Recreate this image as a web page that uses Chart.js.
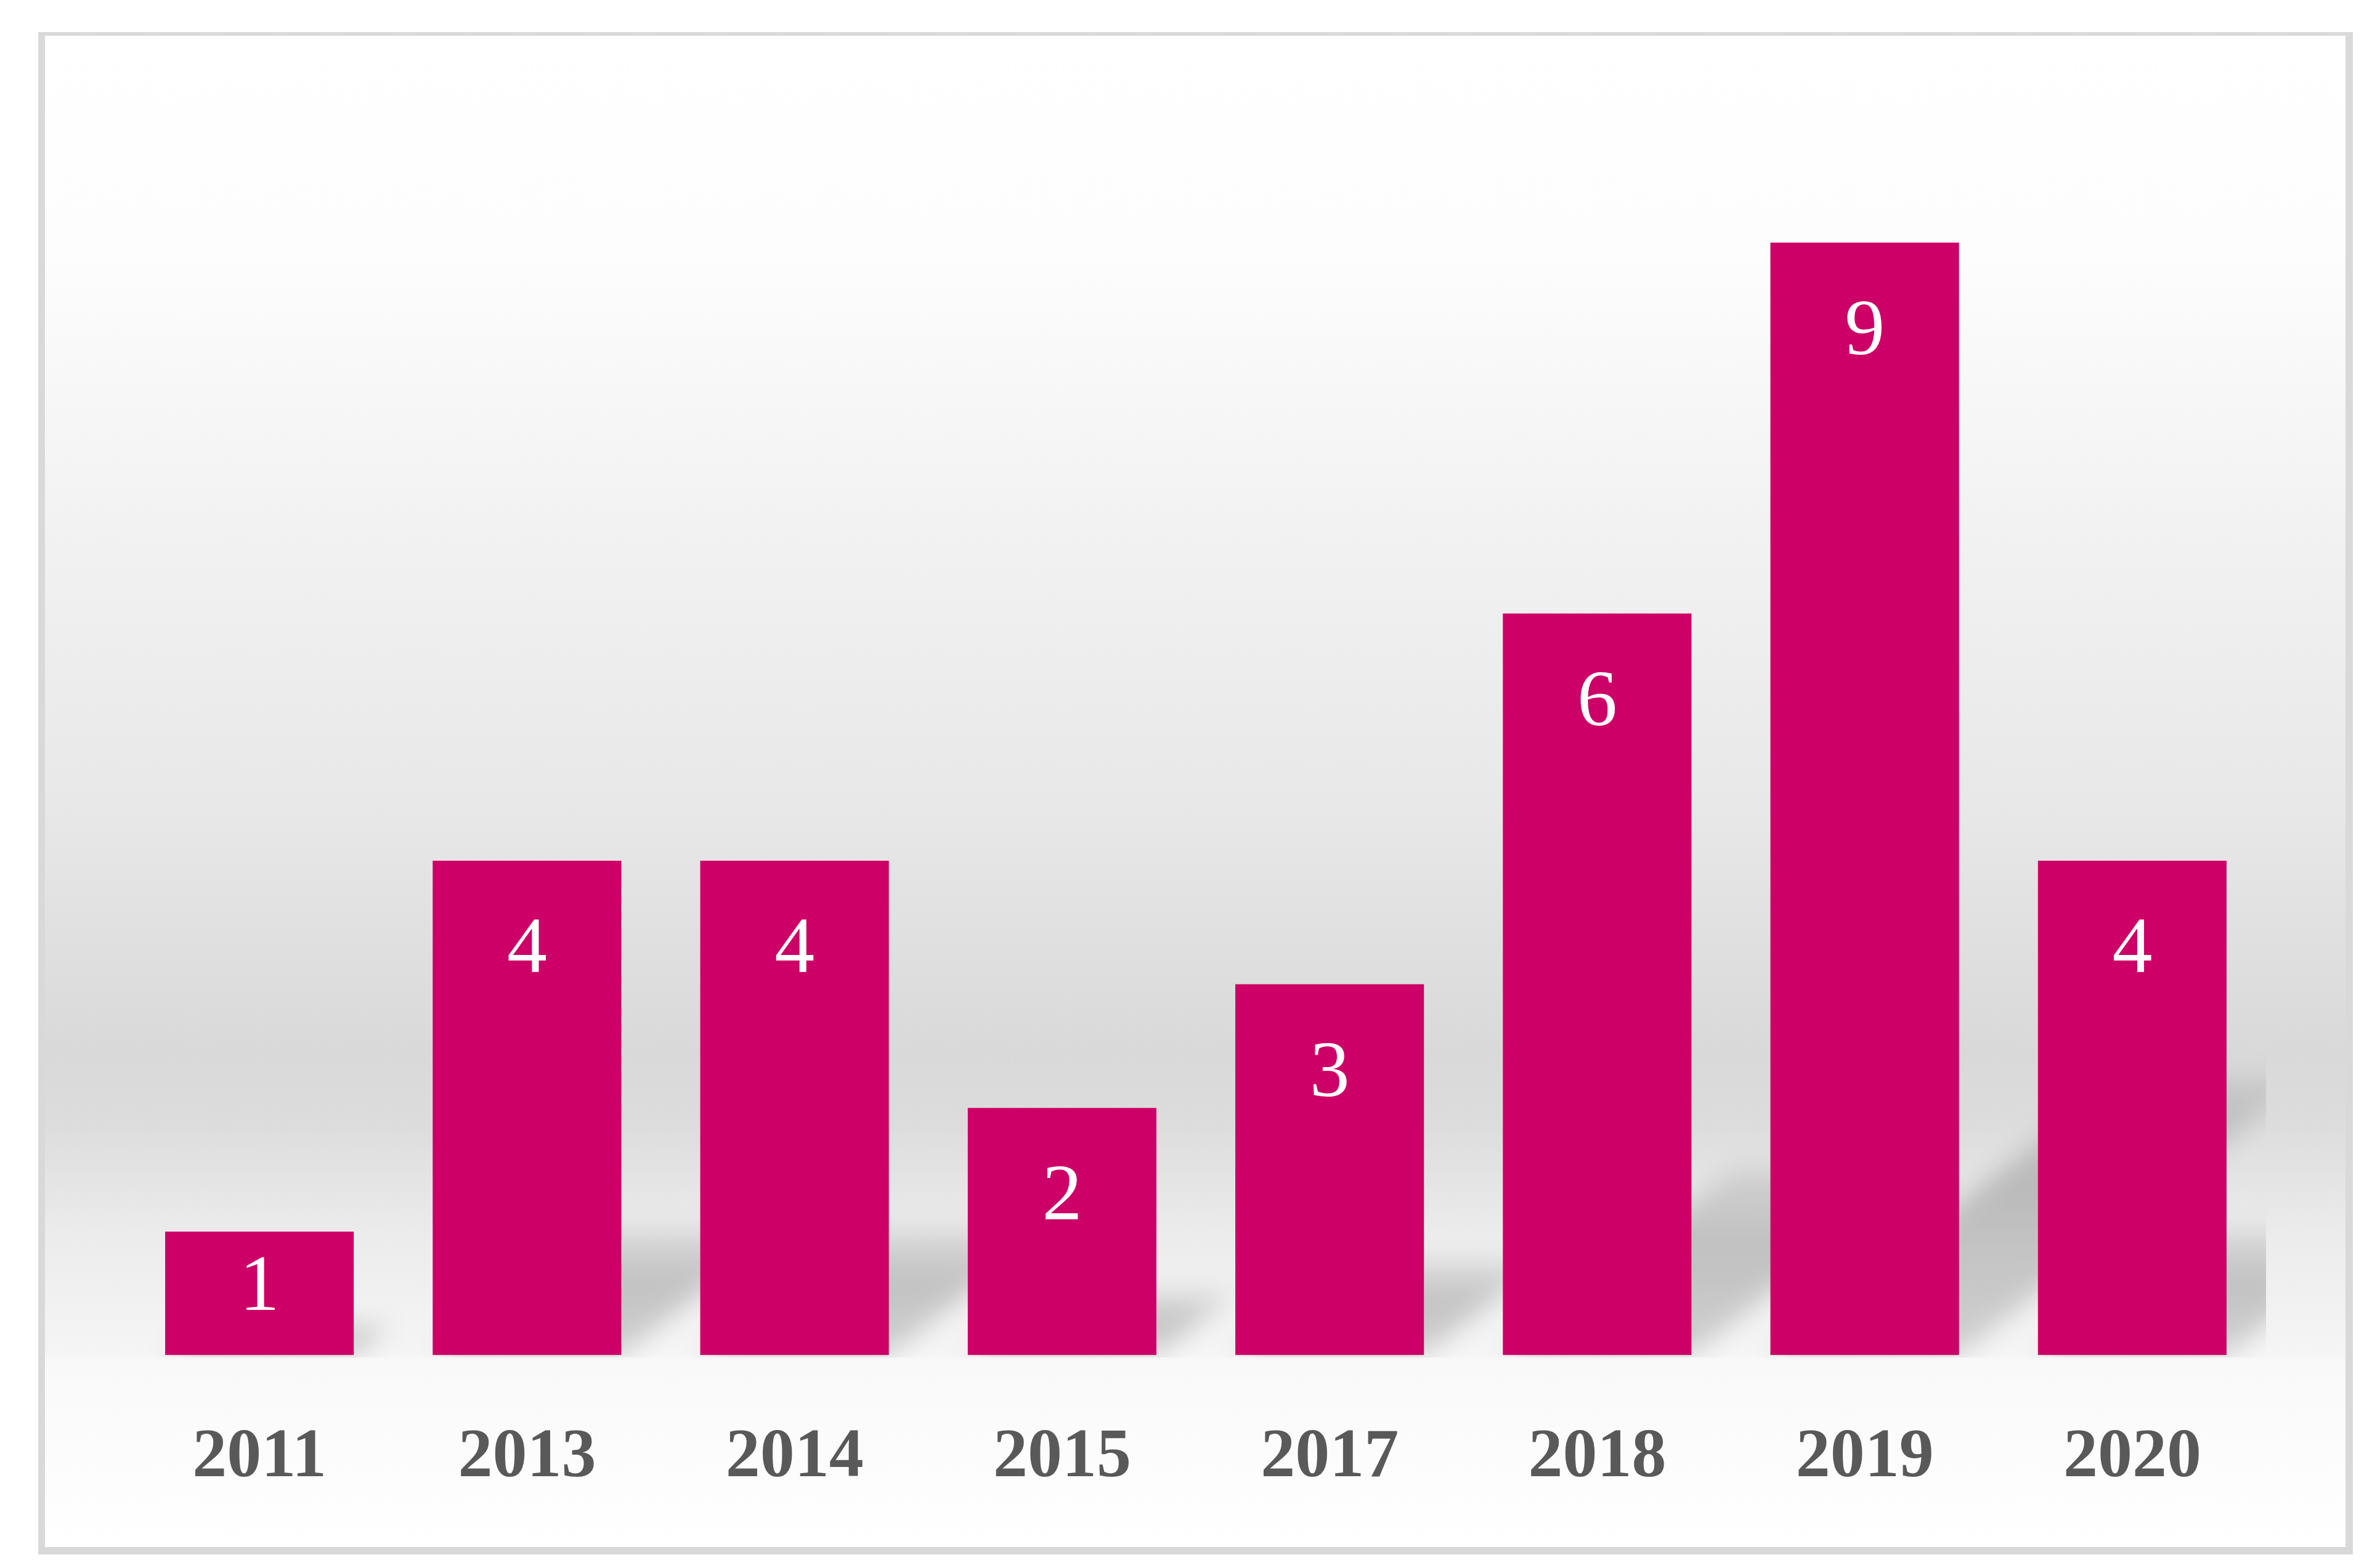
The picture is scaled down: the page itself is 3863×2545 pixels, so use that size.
<!DOCTYPE html>
<html>
<head>
<meta charset="utf-8">
<script src="https://cdn.jsdelivr.net/npm/chart.js@4/dist/chart.umd.min.js"></script>
<style>
  html, body { margin: 0; padding: 0; background: #ffffff; }
  #frame {
    position: absolute;
    left: 62px; top: 52px;
    width: 3734px; height: 2453px;
    border-style: solid;
    border-color: #d9d9d9;
    border-width: 6px 12px 12px 11px;
    background: linear-gradient(to bottom,
      #ffffff 0px, #fdfdfd 350px, #f3f3f3 750px, #e8e8e8 1250px,
      #d9d9d9 1650px, #dcdcdc 1760px, #ececec 1950px, #f5f5f5 2140px,
      #f9f9f9 2152px, #ffffff 2453px);
  }
  #chart { position: absolute; left: 0; top: 0; }
</style>
</head>
<body>
<div id="frame"></div>
<canvas id="chart" width="3863" height="2545"></canvas>
<script>
// ===== Datos =====
const years = ['2011', '2013', '2014', '2015', '2017', '2018', '2019', '2020'];
const counts = [1, 4, 4, 2, 3, 6, 9, 4];
const yMax = 10;

const barColor = '#cc0066';

// sombra en perspectiva detrás de cada barra
const barShadows = {
  id: 'barShadows',
  beforeDatasetsDraw(chart) {
    const { ctx, chartArea } = chart;
    const meta = chart.getDatasetMeta(0);
    ctx.save();
    ctx.beginPath();
    ctx.rect(chartArea.left, chartArea.top, chartArea.right - chartArea.left, chartArea.bottom - chartArea.top + 4);
    ctx.clip();
    ctx.filter = 'blur(20px)';
    meta.data.forEach(bar => {
      const { x, y, base, width } = bar.getProps(['x', 'y', 'base', 'width'], true);
      const L = x - width / 2, R = x + width / 2, H = base - y;
      const dy = 0.25 * H, dx = dy / 0.8;
      const g = ctx.createLinearGradient(0, base, 0, base - dy);
      g.addColorStop(0, 'rgba(0,0,0,0.15)');
      g.addColorStop(0.6, 'rgba(0,0,0,0.19)');
      g.addColorStop(1, 'rgba(0,0,0,0.08)');
      ctx.fillStyle = g;
      ctx.beginPath();
      ctx.moveTo(L, base);
      ctx.lineTo(R, base);
      ctx.lineTo(R + dx, base - dy);
      ctx.lineTo(L + dx, base - dy);
      ctx.closePath();
      ctx.fill();
    });
    ctx.restore();
  }
};

// números blancos dentro de las barras
const barValues = {
  id: 'barValues',
  afterDatasetsDraw(chart) {
    const { ctx } = chart;
    const meta = chart.getDatasetMeta(0);
    ctx.save();
    ctx.fillStyle = '#ffffff';
    ctx.font = '130px "Liberation Serif", serif';
    ctx.textAlign = 'center';
    ctx.textBaseline = 'middle';
    meta.data.forEach((bar, i) => {
      const { x, y, base } = bar.getProps(['x', 'y', 'base'], true);
      const off = Math.min(147, (base - y) / 2 - 7);
      ctx.fillText(String(counts[i]), x, y + off);
    });
    ctx.restore();
  }
};

new Chart(document.getElementById('chart'), {
  type: 'bar',
  data: {
    labels: years,
    datasets: [{
      data: counts,
      backgroundColor: barColor,
      borderWidth: 0,
      categoryPercentage: 1,
      barPercentage: 0.705
    }]
  },
  options: {
    responsive: false,
    animation: false,
    devicePixelRatio: 1,
    layout: { padding: { left: 204, right: 185, top: 193, bottom: 11 } },
    plugins: {
      legend: { display: false },
      tooltip: { enabled: false }
    },
    scales: {
      x: {
        grid: { display: false, drawTicks: false },
        border: { display: false },
        ticks: {
          color: '#595959',
          padding: 100,
          font: { family: '"Liberation Serif", serif', size: 112, weight: 'bold' }
        }
      },
      y: {
        display: false,
        min: 0,
        max: yMax
      }
    }
  },
  plugins: [barShadows, barValues]
});
</script>
</body>
</html>
